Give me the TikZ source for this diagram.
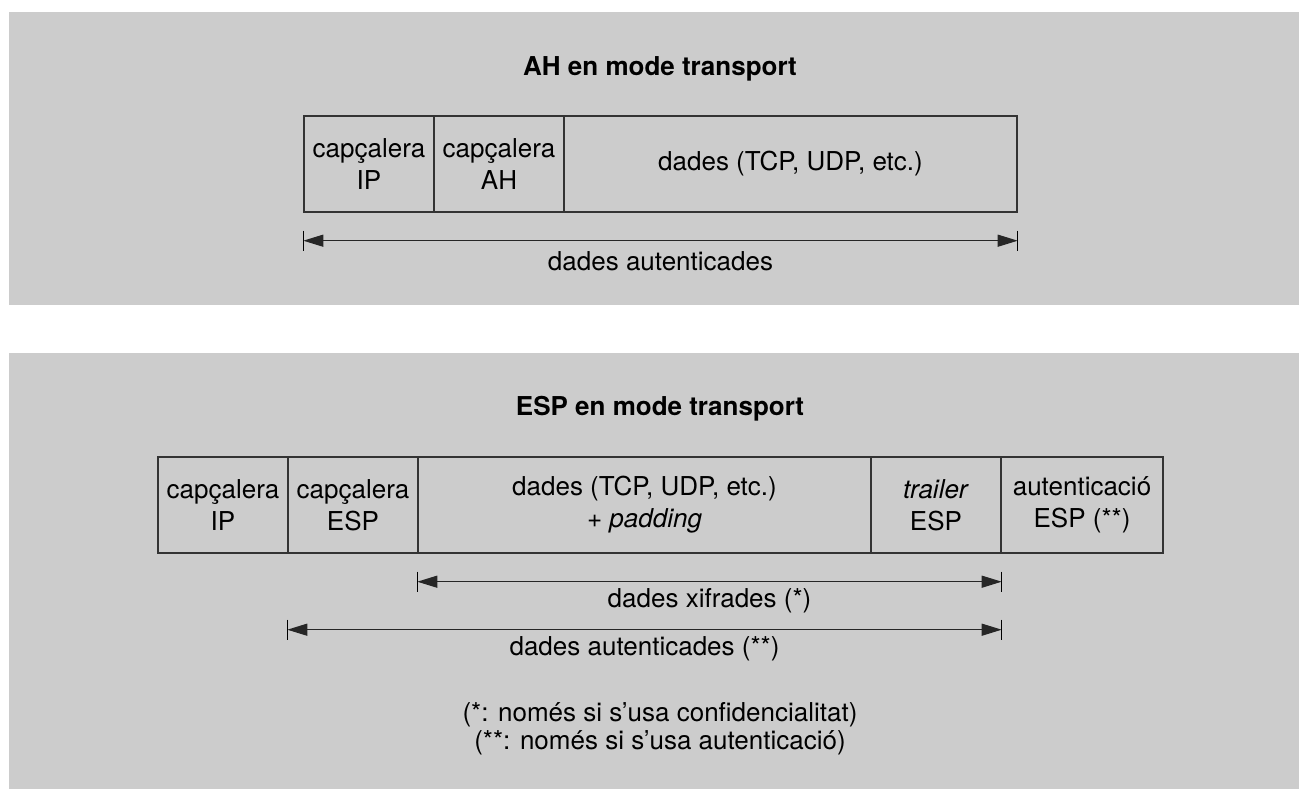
\documentclass[tikz,border=0pt]{standalone}
\usepackage{fontspec}
\setmainfont{TeX Gyre Heros}
\usetikzlibrary{arrows.meta}
\definecolor{panelgray}{HTML}{CCCCCC}
\definecolor{linegray}{HTML}{333333}
\begin{document}
\begin{tikzpicture}[x=1pt,y=-1pt,
  field/.style={draw=linegray,line width=1.4pt,minimum height=96pt,inner sep=0pt,
    align=center,font=\fontsize{26}{32}\selectfont},
  title/.style={font=\fontsize{26}{32}\selectfont\bfseries},
  lbl/.style={font=\fontsize{26}{32}\selectfont,inner sep=0pt},
  dimline/.style={line width=1.3pt,draw=black!85,{Triangle[length=20pt,width=12pt]}-{Triangle[length=20pt,width=12pt]}},
  tick/.style={line width=1.3pt,draw=black}]
\useasboundingbox (0,0) rectangle (1299,789);
\fill[white] (0,0) rectangle (1299,789);
\fill[panelgray] (9,12) rectangle (1299,305);
\fill[panelgray] (9,353) rectangle (1299,789);

% top panel
\node[title] (t1) at (660,69) {AH en mode transport};
\node[field,minimum width=130pt] (ip1) at (369,164) {capçalera\\IP};
\node[field,minimum width=130pt] (ah1) at (499,164) {capçalera\\AH};
\node[field,minimum width=453pt] (d1) at (790.5,164) {dades (TCP, UDP, etc.)};
\coordinate (a1s) at ([yshift=-28pt]ip1.south west);
\coordinate (a1e) at ([yshift=-28pt]d1.south east);
\draw[dimline] (a1s) -- node[lbl,below=10pt] (l1) {dades autenticades} (a1e);
\draw[tick] ([yshift=10pt]a1s) -- ([yshift=-10pt]a1s);
\draw[tick] ([yshift=10pt]a1e) -- ([yshift=-10pt]a1e);

% bottom panel
\node[title] (t2) at (660,409) {ESP en mode transport};
\node[field,minimum width=130pt] (ip2) at (223,505) {capçalera\\IP};
\node[field,minimum width=130pt] (esp2) at (353,505) {capçalera\\ESP};
\node[field,minimum width=453pt] (d2) at (644.5,505) {dades (TCP, UDP, etc.)\\+ \textit{padding}};
\node[field,minimum width=130pt] (tr2) at (936,505) {\textit{trailer}\\ESP};
\node[field,minimum width=162pt] (au2) at (1082,505) {autenticació\\ESP (**)};
\coordinate (x2s) at ([yshift=-28pt]d2.south west);
\coordinate (x2e) at ([yshift=-28pt]tr2.south east);
\draw[dimline] (x2s) -- node[lbl,below=6pt] (l2) {dades xifrades (*)} (x2e);
\draw[tick] ([yshift=10pt]x2s) -- ([yshift=-10pt]x2s);
\draw[tick] ([yshift=10pt]x2e) -- ([yshift=-10pt]x2e);
\coordinate (u2s) at ([yshift=-76pt]esp2.south west);
\coordinate (u2e) at ([yshift=-76pt]tr2.south east);
\draw[dimline] (u2s) -- node[lbl,below=6pt] (l3) {dades autenticades (**)} (u2e);
\draw[tick] ([yshift=10pt]u2s) -- ([yshift=-10pt]u2s);
\draw[tick] ([yshift=10pt]u2e) -- ([yshift=-10pt]u2e);
\node[lbl] (n1) at (660,715) {(*: només si s’usa confidencialitat)};
\node[lbl] (n2) at (660,743) {(**: només si s’usa autenticació)};
\end{tikzpicture}
\end{document}
